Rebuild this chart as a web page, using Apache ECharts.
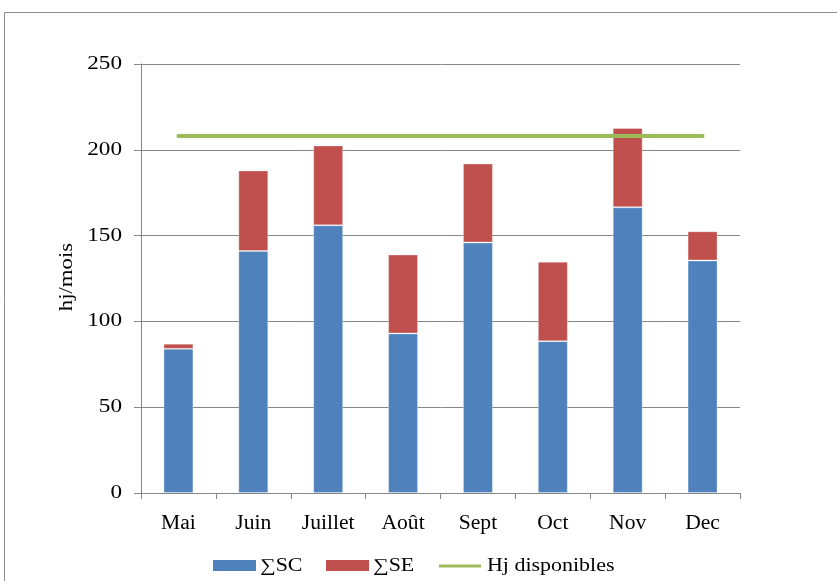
<!DOCTYPE html>
<html>
<head>
<meta charset="utf-8">
<script src="https://cdn.jsdelivr.net/npm/echarts@6/dist/echarts.min.js"></script>
<style>
  html, body { margin: 0; padding: 0; background: #fff; }
  #chart { width: 837px; height: 581px; }
</style>
</head>
<body>
<div id="chart"></div>
<script>
// Monthly hours: stacked SC + SE per month, with available hours as a flat line
const months = ['Mai', 'Juin', 'Juillet', 'Août', 'Sept', 'Oct', 'Nov', 'Dec'];
const sumSC = [84, 141, 156, 93, 146, 88.5, 166.5, 135.5];
const sumSE = [3, 47, 46.5, 46, 46, 46.3, 46.2, 17];
const hjDisponibles = [208, 208, 208, 208, 208, 208, 208, 208];
const yTicks = [0, 50, 100, 150, 200, 250];
const seriesNames = ['∑SC', '∑SE', 'Hj disponibles'];
const seriesColors = ['#4F81BD', '#C0504D', '#9BBB59'];

const serif = 'Liberation Serif, Times New Roman, serif';
const grey = '#878787';

const chart = echarts.init(document.getElementById('chart'), null, { renderer: 'canvas' });

chart.setOption({
  animation: false,
  backgroundColor: '#ffffff',
  grid: { left: 141, right: 97, top: 64, bottom: 88, containLabel: false },
  xAxis: {
    type: 'category',
    data: months,
    boundaryGap: true,
    axisLine: { lineStyle: { color: grey, width: 1 } },
    axisTick: { show: true, length: 6, lineStyle: { color: grey } },
    axisLabel: { show: false }
  },
  yAxis: {
    type: 'value',
    min: yTicks[0],
    max: yTicks[yTicks.length - 1],
    interval: 50,
    axisLine: { show: true, lineStyle: { color: grey, width: 1 } },
    axisTick: { show: true, length: 7, lineStyle: { color: grey } },
    axisLabel: { show: false },
    splitLine: { show: true, lineStyle: { color: grey, width: 1 } }
  },
  series: [
    {
      name: seriesNames[0],
      type: 'bar',
      stack: 'total',
      barWidth: '40%',
      data: sumSC,
      itemStyle: { color: seriesColors[0], borderColor: 'rgba(255,255,255,0.3)', borderWidth: 1 }
    },
    {
      name: seriesNames[1],
      type: 'bar',
      stack: 'total',
      barWidth: '40%',
      data: sumSE,
      itemStyle: { color: seriesColors[1], borderColor: 'rgba(255,255,255,0.3)', borderWidth: 1 }
    },
    {
      name: seriesNames[2],
      type: 'line',
      data: hjDisponibles,
      symbol: 'none',
      z: 5,
      lineStyle: { color: seriesColors[2], width: 4, cap: 'round' }
    }
  ]
});

// Wide serif labels (the text is set a little stretched along its baseline)
function wideText(x, y, text, size, sx, align, vAlign, rotation) {
  return {
    type: 'text',
    x: x, y: y,
    rotation: rotation || 0,
    scaleX: sx,
    silent: true,
    style: {
      text: text,
      fontFamily: serif,
      fontSize: size,
      fill: '#000',
      align: align,
      verticalAlign: vAlign
    }
  };
}

const gfx = [];

// outer chart frame
gfx.push({
  type: 'rect',
  shape: { x: 4.5, y: 12.5, width: 900, height: 700 },
  style: { fill: 'none', stroke: '#8c8c8c', lineWidth: 1 },
  silent: true
});

// value-axis tick labels, placed with the axis scale
const axisX = chart.convertToPixel({ xAxisIndex: 0 }, months[0]);
yTicks.forEach(function (v) {
  const py = chart.convertToPixel({ yAxisIndex: 0 }, v);
  gfx.push(wideText(122, py, String(v), 19, 1.22, 'right', 'middle'));
});

// category labels under each bar
const zeroY = chart.convertToPixel({ yAxisIndex: 0 }, 0);
months.forEach(function (m) {
  const px = chart.convertToPixel({ xAxisIndex: 0 }, m);
  gfx.push(wideText(px, zeroY + 31, m, 20, 1.08, 'center', 'middle'));
});

// value-axis title
gfx.push(wideText(67, 277, 'hj/mois', 19, 1.2, 'center', 'middle', Math.PI / 2));

// legend
const legendY = 566;
const legendItems = [
  { x: 213, text: 260 },
  { x: 326, text: 373 },
  { x: 439, text: 487 }
];
legendItems.forEach(function (it, i) {
  if (i < 2) {
    gfx.push({
      type: 'rect', silent: true,
      shape: { x: it.x, y: legendY - 6, width: 43, height: 11 },
      style: { fill: seriesColors[i] }
    });
  } else {
    gfx.push({
      type: 'line', silent: true,
      shape: { x1: it.x, y1: legendY, x2: it.x + 42, y2: legendY },
      style: { stroke: seriesColors[i], lineWidth: 3 }
    });
  }
  gfx.push(wideText(it.text, legendY, seriesNames[i], 18, 1.22, 'left', 'middle'));
});

chart.setOption({ graphic: gfx });
</script>
</body>
</html>
